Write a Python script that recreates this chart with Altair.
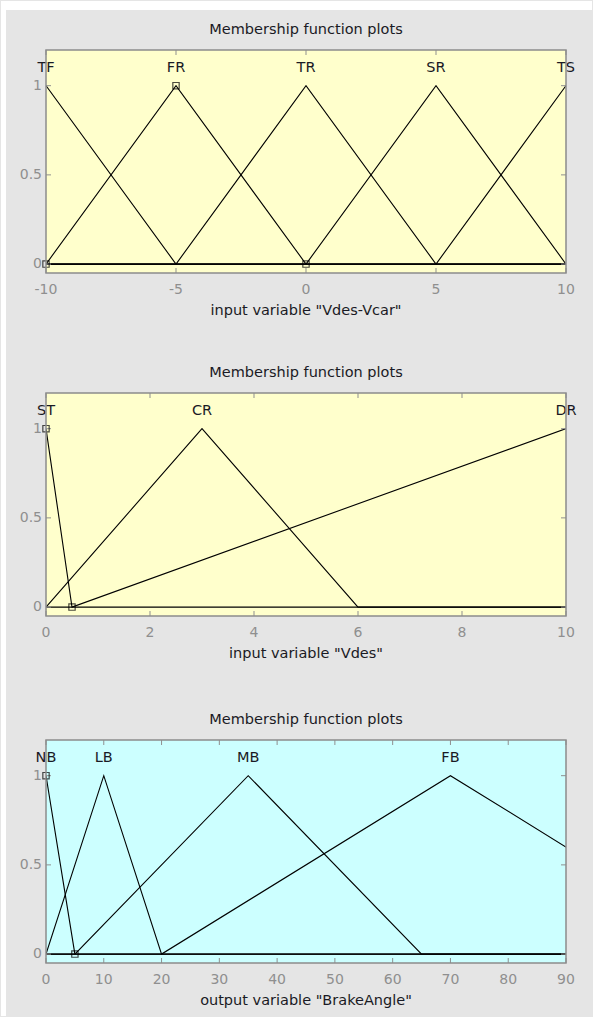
import altair as alt
import pandas as pd

# ---- membership functions (triangular: [a, b, c]) ----
in1_names = ["TF", "FR", "TR", "SR", "TS"]
in1_params = [[-15, -10, -5], [-10, -5, 0], [-5, 0, 5], [0, 5, 10], [5, 10, 15]]
in1_range = [-10, 10]
in1_ticks = [-10, -5, 0, 5, 10]
in1_tick_labels = ["-10", "-5", "0", "5", "10"]
in1_title = 'input variable "Vdes-Vcar"'
in1_selected = "FR"

in2_names = ["ST", "CR", "DR"]
in2_params = [[-0.5, 0, 0.5], [0, 3, 6], [0.5, 10, 19.5]]
in2_range = [0, 10]
in2_ticks = [0, 2, 4, 6, 8, 10]
in2_tick_labels = ["0", "2", "4", "6", "8", "10"]
in2_title = 'input variable "Vdes"'
in2_selected = "ST"

out_names = ["NB", "LB", "MB", "FB"]
out_params = [[-5, 0, 5], [0, 10, 20], [5, 35, 65], [20, 70, 120]]
out_range = [0, 90]
out_ticks = [0, 10, 20, 30, 40, 50, 60, 70, 80, 90]
out_tick_labels = ["0", "10", "20", "30", "40", "50", "60", "70", "80", "90"]
out_title = 'output variable "BrakeAngle"'
out_selected = "NB"

y_ticks = [0, 0.5, 1]
y_tick_labels = ["0", "0.5", "1"]
y_domain = [-0.05, 1.2]
label_level = 1.1

# ---- styling ----
W, H = 520, 223
LEFT, RIGHT = 45, 26
FONT = "DejaVu Sans"
FIG_GRAY = "#e5e5e5"
TICK_GRAY = "#8f8f8f"
TEXT_DARK = "#1a1a24"


def mf_table(names, params, xr):
    rows = []
    for name, (a, b, c) in zip(names, params):
        pts = []
        if xr[0] < a:
            pts.append((xr[0], 0))
        pts += [(a, 0), (b, 1), (c, 0)]
        if xr[1] > c:
            pts.append((xr[1], 0))
        for i, (x, y) in enumerate(pts):
            rows.append({"mf": name, "i": i, "x": x, "y": y})
    return pd.DataFrame(rows)


def panel(names, params, xr, xticks, xlabels, xtitle, selected, fill,
          top, bottom, white_top=False):
    xs = alt.Scale(domain=xr, nice=False, zero=False)
    ys = alt.Scale(domain=y_domain, nice=False, zero=False)
    one = pd.DataFrame({"k": [0]})

    # figure backdrop for this panel, with the white window edge on the left
    layers = [
        alt.Chart(one).mark_rect(color=FIG_GRAY).encode(
            x=alt.value(-LEFT), x2=alt.value(W + RIGHT),
            y=alt.value(-top), y2=alt.value(H + bottom),
        ),
        alt.Chart(one).mark_rect(color="white").encode(
            x=alt.value(-LEFT), x2=alt.value(-40),
            y=alt.value(-top), y2=alt.value(H + bottom),
        ),
    ]
    if white_top:
        layers.append(alt.Chart(one).mark_rect(color="white").encode(
            x=alt.value(-LEFT), x2=alt.value(W + RIGHT),
            y=alt.value(-top), y2=alt.value(-40),
        ))

    layers.append(alt.Chart(one).mark_rect(color=fill).encode(
        x=alt.value(0), x2=alt.value(W), y=alt.value(0), y2=alt.value(H)
    ))

    layers.append(alt.Chart(mf_table(names, params, xr)).mark_line(
        color="black", strokeWidth=1.1, clip=True
    ).encode(
        x=alt.X("x:Q", scale=xs, axis=None),
        y=alt.Y("y:Q", scale=ys, axis=None),
        detail="mf:N",
        order="i:Q",
    ))

    # inward tick marks on all four sides
    xt = pd.DataFrame({"v": xticks, "t": xlabels})
    yt = pd.DataFrame({"v": y_ticks, "t": y_tick_labels})
    tx = alt.X("v:Q", scale=xs, axis=None)
    ty = alt.Y("v:Q", scale=ys, axis=None)
    layers += [
        alt.Chart(xt).mark_rule(color=TICK_GRAY).encode(x=tx, y=alt.value(H), y2=alt.value(H - 5)),
        alt.Chart(xt).mark_rule(color=TICK_GRAY).encode(x=tx, y=alt.value(0), y2=alt.value(5)),
        alt.Chart(yt).mark_rule(color=TICK_GRAY).encode(y=ty, x=alt.value(0), x2=alt.value(5)),
        alt.Chart(yt).mark_rule(color=TICK_GRAY).encode(y=ty, x=alt.value(W), x2=alt.value(W - 5)),
    ]

    # tick labels and axis title
    layers += [
        alt.Chart(xt).mark_text(
            font=FONT, fontSize=14, color=TICK_GRAY, baseline="middle", align="center"
        ).encode(x=tx, y=alt.value(H + 17), text="t:N"),
        alt.Chart(yt).mark_text(
            font=FONT, fontSize=14, color=TICK_GRAY, baseline="middle", align="right"
        ).encode(y=ty, x=alt.value(-4), text="t:N"),
        alt.Chart(one).mark_text(
            text=xtitle, font=FONT, fontSize=14.5, color=TEXT_DARK,
            baseline="middle", align="center",
        ).encode(x=alt.value(W / 2), y=alt.value(H + 38)),
    ]

    sel = dict(zip(names, params))[selected]
    handles = pd.DataFrame({"x": sel, "y": [0, 1, 0]})
    handles = handles[(handles.x >= xr[0]) & (handles.x <= xr[1])]
    layers.append(alt.Chart(handles).mark_point(
        shape="square", size=40, filled=False, color="black", strokeWidth=1.2
    ).encode(
        x=alt.X("x:Q", scale=xs, axis=None),
        y=alt.Y("y:Q", scale=ys, axis=None),
    ))

    labels_df = pd.DataFrame({
        "mf": names, "x": [p[1] for p in params], "y": [label_level] * len(names)
    })
    layers.append(alt.Chart(labels_df).mark_text(
        font=FONT, fontSize=14.5, color=TEXT_DARK, baseline="middle"
    ).encode(
        x=alt.X("x:Q", scale=xs, axis=None),
        y=alt.Y("y:Q", scale=ys, axis=None),
        text="mf:N",
    ))

    layers.append(alt.Chart(one).mark_rect(
        fillOpacity=0, stroke="#8c8c8c", strokeWidth=1.5
    ).encode(x=alt.value(0), x2=alt.value(W), y=alt.value(0), y2=alt.value(H)))

    layers.append(alt.Chart(one).mark_text(
        text="Membership function plots", font=FONT, fontSize=14.5,
        color=TEXT_DARK, baseline="middle", align="center",
    ).encode(x=alt.value(W / 2), y=alt.value(-20)))

    return alt.layer(*layers).properties(width=W, height=H)


p1 = panel(in1_names, in1_params, in1_range, in1_ticks, in1_tick_labels,
           in1_title, in1_selected, "#ffffcc", 49, 70, white_top=True)
p2 = panel(in2_names, in2_params, in2_range, in2_ticks, in2_tick_labels,
           in2_title, in2_selected, "#ffffcc", 50, 74)
p3 = panel(out_names, out_params, out_range, out_ticks, out_tick_labels,
           out_title, out_selected, "#ccffff", 50, 276 - H)

chart = alt.vconcat(p1, p2, p3, spacing=-2).properties(
    background=FIG_GRAY,
    padding={"left": 0, "top": 0, "right": 0, "bottom": 0},
).configure_view(stroke="transparent")

chart.save("out.html", embed_options={"renderer": "svg", "actions": False})
